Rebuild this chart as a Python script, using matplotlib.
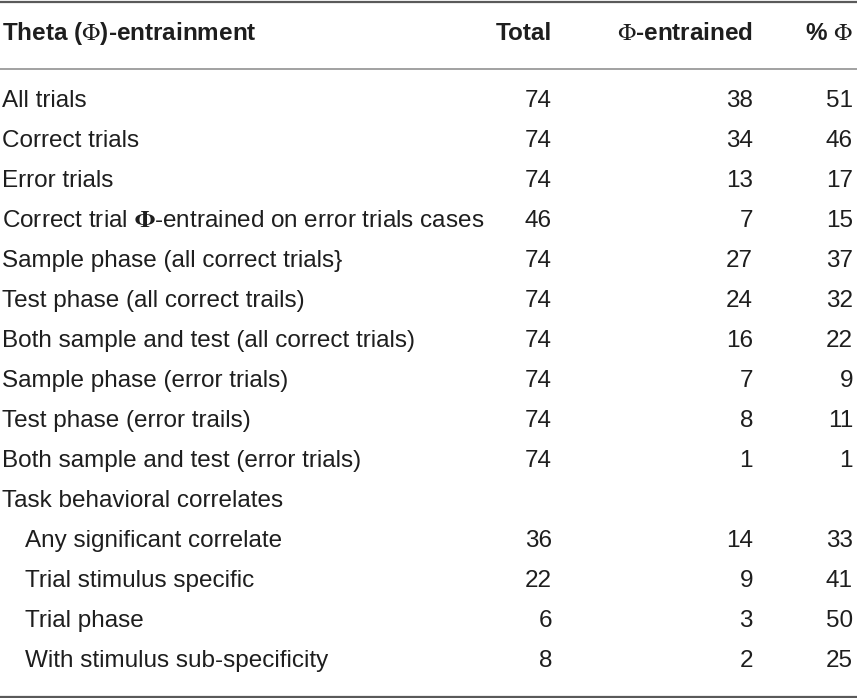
import matplotlib.pyplot as plt

plt.rcParams['font.family'] = ['Liberation Sans', 'DejaVu Sans']
plt.rcParams['mathtext.fontset'] = 'stix'

# Table data
headers = ["Theta ($\\Phi$)-entrainment", "Total", "$\\Phi$-entrained", "% $\\Phi$"]
labels = [
    "All trials",
    "Correct trials",
    "Error trials",
    "Correct trial $\\mathbf{\\Phi}$-entrained on error trials cases",
    "Sample phase (all correct trials}",
    "Test phase (all correct trails)",
    "Both sample and test (all correct trials)",
    "Sample phase (error trials)",
    "Test phase (error trails)",
    "Both sample and test (error trials)",
    "Task behavioral correlates",
    "Any significant correlate",
    "Trial stimulus specific",
    "Trial phase",
    "With stimulus sub-specificity",
]
indent = [0] * 11 + [1, 1, 1, 1]
total = [74, 74, 74, 46, 74, 74, 74, 74, 74, 74, None, 36, 22, 6, 8]
entrained = [38, 34, 13, 7, 27, 24, 16, 7, 8, 1, None, 14, 9, 3, 2]
pct = [51, 46, 17, 15, 37, 32, 22, 9, 11, 1, None, 33, 41, 50, 25]

fig = plt.figure(figsize=(8.57, 6.98), dpi=100)
ax = fig.add_axes([0, 0, 1, 1])
ax.set_xlim(0, 857)
ax.set_ylim(698, 0)
ax.axis('off')

fs = 17.5
col_x = [2, 552, 753, 853]
txt = '#1e1e1e'

# rules
ax.plot([0, 857], [1.5, 1.5], color='#5a5a5a', lw=1.6)
ax.plot([0, 857], [69, 69], color='#9a9a9a', lw=1.3)
ax.plot([0, 857], [696.5, 696.5], color='#5a5a5a', lw=1.6)

# header
for i, h in enumerate(headers):
    ax.text(col_x[i], 40, h, ha='left' if i == 0 else 'right', va='baseline',
            fontsize=fs, fontweight='bold', color=txt)

# rows
for r, lab in enumerate(labels):
    y = 107 + r * 40
    ax.text(col_x[0] + 23 * indent[r], y, lab, ha='left', va='baseline',
            fontsize=fs, color=txt)
    for c, vals in zip([1, 2, 3], [total, entrained, pct]):
        if vals[r] is not None:
            ax.text(col_x[c], y, str(vals[r]), ha='right', va='baseline',
                    fontsize=fs, color=txt)

fig.savefig('out.png', dpi=100)
